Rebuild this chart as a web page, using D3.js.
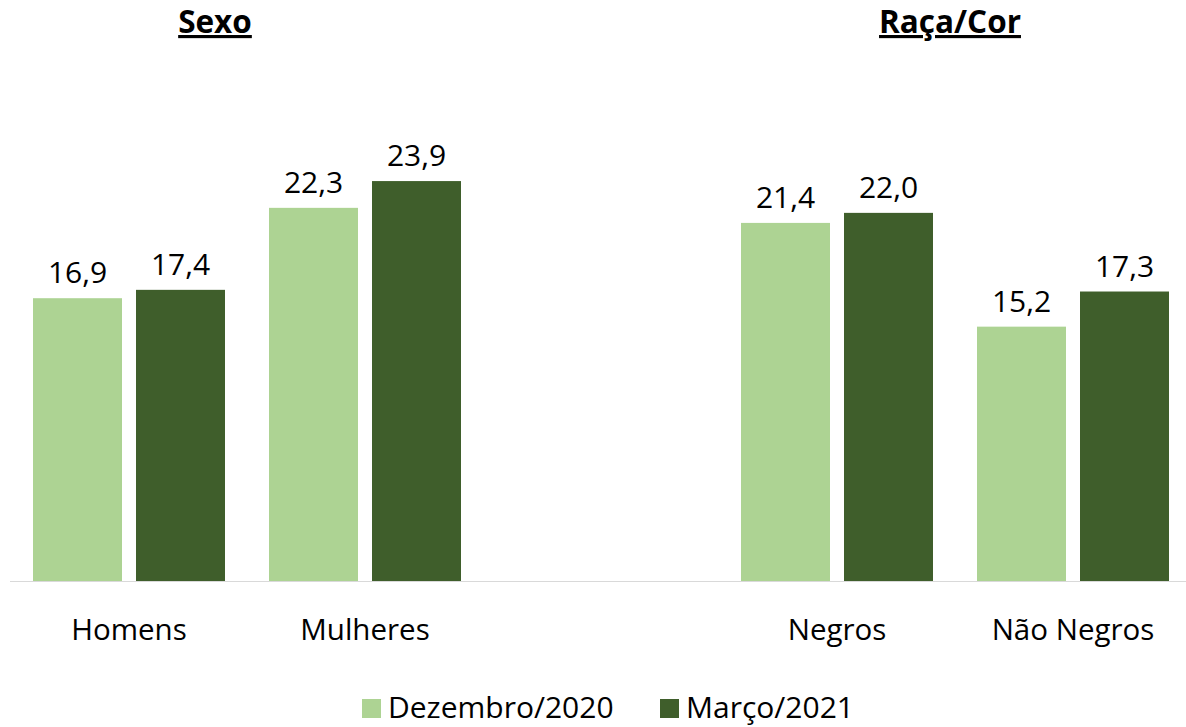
<!DOCTYPE html>
<html>
<head>
<meta charset="utf-8">
<script src="https://cdn.jsdelivr.net/npm/d3@7"></script>
<style>
  body { margin: 0; background: #fff; }
  svg { display: block; font-family: "Open Sans", "Noto Sans", sans-serif; }
</style>
</head>
<body>
<div id="chart"></div>
<script>
// chart data
const categories = ['Homens', 'Mulheres', '', 'Negros', 'Não Negros'];
const seriesNames = ['Dezembro/2020', 'Março/2021'];
const dezembro = [16.9, 22.3, null, 21.4, 15.2];
const marco = [17.4, 23.9, null, 22.0, 17.3];
const groupTitles = ['Sexo', 'Raça/Cor'];

const width = 1186, height = 727;
const colors = ['#add393', '#3f5e2b'];

const svg = d3.select('#chart').append('svg')
  .attr('width', width)
  .attr('height', height);

const x = d3.scaleBand()
  .domain(categories)
  .range([11, 1191]);

const x1 = d3.scaleBand()
  .domain(seriesNames)
  .range([22, x.bandwidth() - 22])
  .paddingInner(0.136);

const y = d3.scaleLinear()
  .domain([0, 30])
  .range([581, 79]);

const rows = categories.map((c, i) => ({
  cat: c,
  values: [dezembro[i], marco[i]]
})).filter(d => d.cat !== '');

const groups = svg.append('g')
  .selectAll('g')
  .data(rows)
  .join('g')
    .attr('transform', d => `translate(${x(d.cat)},0)`);

groups.selectAll('rect')
  .data(d => d.values.map((v, i) => ({ name: seriesNames[i], value: v, i: i })))
  .join('rect')
    .attr('x', d => x1(d.name))
    .attr('width', x1.bandwidth())
    .attr('y', d => y(d.value))
    .attr('height', d => y(0) - y(d.value))
    .attr('fill', d => colors[d.i]);

groups.selectAll('text')
  .data(d => d.values.map((v, i) => ({ name: seriesNames[i], value: v })))
  .join('text')
    .attr('x', d => x1(d.name) + x1.bandwidth() / 2)
    .attr('y', d => y(d.value) - 15)
    .attr('text-anchor', 'middle')
    .attr('font-size', 30)
    .attr('fill', '#000')
    .text(d => d.value.toFixed(1).replace('.', ','));

// baseline
svg.append('line')
  .attr('x1', 10)
  .attr('x2', 1186)
  .attr('y1', y(0) + 0.5)
  .attr('y2', y(0) + 0.5)
  .attr('stroke', '#d9d9d9')
  .attr('stroke-width', 1);

// category labels
svg.append('g')
  .selectAll('text')
  .data(rows)
  .join('text')
    .attr('x', d => x(d.cat) + x.bandwidth() / 2)
    .attr('y', 640)
    .attr('text-anchor', 'middle')
    .attr('font-size', 29.5)
    .attr('fill', '#000')
    .text(d => d.cat);

// group titles
const titlePos = [215, 950];
svg.append('g')
  .selectAll('text')
  .data(groupTitles)
  .join('text')
    .attr('x', (d, i) => titlePos[i])
    .attr('y', 33)
    .attr('text-anchor', 'middle')
    .attr('font-size', 31.5)
    .attr('font-weight', 'bold')
    .attr('text-decoration', 'underline')
    .attr('fill', '#000')
    .text(d => d);

// legend
const legendX = [362, 660];
const legend = svg.append('g')
  .selectAll('g')
  .data(seriesNames)
  .join('g')
    .attr('transform', (d, i) => `translate(${legendX[i]},699)`);

legend.append('rect')
  .attr('width', 19)
  .attr('height', 19)
  .attr('fill', (d, i) => colors[i]);

legend.append('text')
  .attr('x', 26)
  .attr('y', 19)
  .attr('font-size', 30)
  .attr('fill', '#000')
  .text(d => d);
</script>
</body>
</html>
